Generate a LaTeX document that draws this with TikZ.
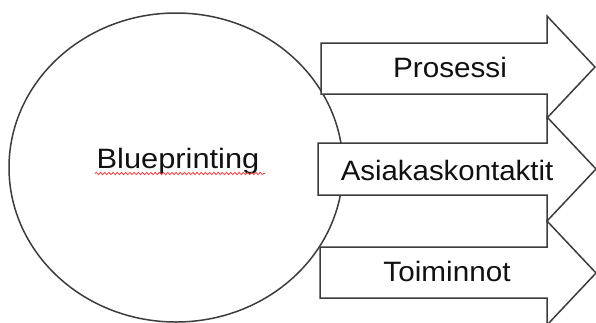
\documentclass[tikz,border=0pt]{standalone}
\usepackage{fontspec}
\usepackage{graphicx}
\setmainfont{Liberation Sans}
\usetikzlibrary{shapes.geometric,decorations.pathmorphing}
\definecolor{edge}{HTML}{3C3C3C}
\definecolor{ink}{HTML}{111111}
\definecolor{spell}{HTML}{F03C3C}
\newcommand{\wide}[2]{\scalebox{#1}[1]{#2}}
\tikzset{
  outline/.style={draw=edge, line width=1.5pt, line join=miter},
  blockarrow/.style={outline, fill=white},
  label/.style={text=ink, font=\fontsize{28}{34}\selectfont, anchor=base, inner sep=0pt},
  squiggle/.style={draw=spell, line width=0.8pt, decorate,
    decoration={snake, amplitude=1.1pt, segment length=4.2pt}}
}
\begin{document}
\begin{tikzpicture}[x=1pt, y=-1pt]
  \useasboundingbox (0,0) rectangle (596,322);

  % central ellipse
  \node[outline, ellipse, minimum width=334pt, minimum height=309pt, inner sep=0pt]
    (bp) at (176,167.5) {};
  \node[label] (bptext) at (178,168) {\wide{1.10}{Blueprinting}};
  \draw[squiggle] (95,173.5) -- (265,173.5);

  % three block arrows, drawn top to bottom
  \path[blockarrow] (321,43) -- (547,43) -- (547,16) -- (595,67)
    -- (547,118) -- (547,94) -- (321,94) -- cycle;
  \path[blockarrow] (318,143) -- (547,143) -- (547,117) -- (596,169)
    -- (547,221) -- (547,195) -- (318,195) -- cycle;
  \path[blockarrow] (320,247) -- (547,247) -- (547,221) -- (596,273)
    -- (547,325) -- (547,298) -- (320,298) -- cycle;

  \node[label] (p1) at (450,77) {\wide{1.06}{Prosessi}};
  \node[label] (p2) at (447,180) {\wide{1.05}{Asiakaskontaktit}};
  \node[label] (p3) at (447,281) {\wide{1.06}{Toiminnot}};
\end{tikzpicture}
\end{document}
